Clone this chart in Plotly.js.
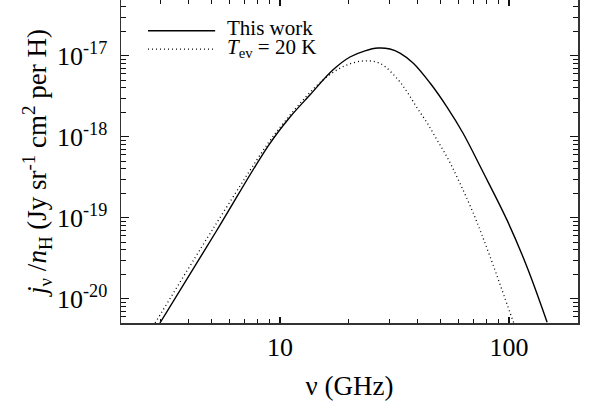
<!DOCTYPE html>
<html><head><meta charset="utf-8">
<script src="https://cdn.plot.ly/plotly-3.0.1.min.js"></script>
<style>html,body{margin:0;padding:0;background:#fff}#chart{width:595px;height:401px}</style>
</head><body><div id="chart"></div>
<script>
// Frequency (GHz) and emissivity j_nu/n_H (Jy sr^-1 cm^2 per H)
const nuThisWork = [2.99, 5.31, 8.87, 11.06, 13.5, 17.0, 20.2, 23.5, 26.8, 30.2, 33.4, 38.1, 45.2, 53.6, 62.9, 76.2, 98.0, 119.9, 146.6];
const jThisWork  = [5.01e-21, 7.05e-20, 7.67e-19, 1.75e-18, 3.27e-18, 6.65e-18, 9.64e-18, 1.150e-17, 1.245e-17, 1.21e-17, 1.079e-17, 8.13e-18, 4.60e-18, 2.32e-18, 1.112e-18, 3.88e-19, 9.33e-20, 2.45e-20, 5.13e-21];

const nuTev20 = [2.85, 5.06, 8.87, 10.34, 12.6, 15.4, 18.8, 23.0, 27.3, 32.5, 35.9, 39.7, 43.9, 48.5, 53.6, 59.3, 69.7, 82.6, 103, 105];
const jTev20  = [5.01e-21, 7.05e-20, 8.32e-19, 1.462e-18, 2.84e-18, 5.01e-18, 7.31e-18, 8.61e-18, 8.05e-18, 5.20e-18, 3.56e-18, 2.26e-18, 1.479e-18, 9.12e-19, 5.62e-19, 3.16e-19, 1.148e-19, 3.31e-20, 5.75e-21, 5.0e-21];

const seriesNames = ['This work', '<i>T</i><sub>ev</sub> = 20 K'];

const xTickVals = [10, 100];
const xTickText = ['10', '100'];
const xMinorVals = [2,3,4,5,6,7,8,9,20,30,40,50,60,70,80,90,200];

const yTickVals = [1e-20, 1e-19, 1e-18, 1e-17];
const yTickText = ['10<sup>-20</sup>', '10<sup>-19</sup>', '10<sup>-18</sup>', '10<sup>-17</sup>'];
const yMinorVals = [6e-21,7e-21,8e-21,9e-21,
  2e-20,3e-20,4e-20,5e-20,6e-20,7e-20,8e-20,9e-20,
  2e-19,3e-19,4e-19,5e-19,6e-19,7e-19,8e-19,9e-19,
  2e-18,3e-18,4e-18,5e-18,6e-18,7e-18,8e-18,9e-18,
  2e-17,3e-17,4e-17,5e-17];

const xTitle = 'ν (GHz)';
const yTitle = '<i>j</i><sub>ν</sub> /<i>n</i><sub>H</sub> (Jy sr<sup>-1</sup> cm<sup>2</sup> per H)';

const FONT = 'Liberation Serif, Times New Roman, serif';
const INK = '#111';

const traces = [
  {x: nuThisWork, y: jThisWork, mode: 'lines', name: seriesNames[0], showlegend: false,
   line: {color: '#000', width: 1.4, shape: 'spline', smoothing: 1.0}},
  {x: nuTev20, y: jTev20, mode: 'lines', name: seriesNames[1], showlegend: false,
   line: {color: '#000', width: 1.3, dash: '1px,3px', shape: 'spline', smoothing: 1.0}}
];

const axisCommon = {
  type: 'log', showgrid: false, zeroline: false,
  showline: true, linecolor: '#333', linewidth: 1.5, mirror: 'ticks',
  ticks: 'inside', tickcolor: INK, tickwidth: 1.2,
  tickfont: {family: FONT, size: 26, color: '#000'}
};

const layout = {
  width: 595, height: 401,
  margin: {l: 121, r: 17, t: 0, b: 78},
  paper_bgcolor: '#fff', plot_bgcolor: '#fff',
  font: {family: FONT, color: '#000'},
  xaxis: Object.assign({}, axisCommon, {
    range: [0.3057, 2.301], tickvals: xTickVals, ticktext: xTickText, ticklen: 6,
    minor: {tickvals: xMinorVals, ticks: 'inside', ticklen: 4, tickcolor: INK, tickwidth: 1},
    title: {text: xTitle, font: {family: FONT, size: 27, color: '#000'}, standoff: 17}
  }),
  yaxis: Object.assign({}, axisCommon, {
    range: [-20.30, -16.312], tickvals: yTickVals, ticktext: yTickText, ticklen: 8, ticklabelstandoff: 7,
    minor: {tickvals: yMinorVals, ticks: 'inside', ticklen: 5, tickcolor: INK, tickwidth: 1},
    title: {text: yTitle, font: {family: FONT, size: 27, color: '#000'}, standoff: 2}
  }),
  shapes: [
    // legend samples
    {type: 'line', xref: 'paper', yref: 'paper', x0: 0.059, x1: 0.206, y0: 0.905, y1: 0.905, line: {color: '#000', width: 1.4}},
    {type: 'line', xref: 'paper', yref: 'paper', x0: 0.059, x1: 0.206, y0: 0.848, y1: 0.848, line: {color: '#000', width: 1.3, dash: '1px,3px'}}
  ],
  annotations: [
    {xref: 'paper', yref: 'paper', x: 0.228, y: 0.912, xanchor: 'left', yanchor: 'middle', showarrow: false,
     text: seriesNames[0], font: {family: FONT, size: 21, color: '#000'}},
    {xref: 'paper', yref: 'paper', x: 0.228, y: 0.852, xanchor: 'left', yanchor: 'middle', showarrow: false,
     text: seriesNames[1], font: {family: FONT, size: 21, color: '#000'}}
  ]
};

Plotly.newPlot('chart', traces, layout, {staticPlot: true, displayModeBar: false});
</script>
</body></html>
